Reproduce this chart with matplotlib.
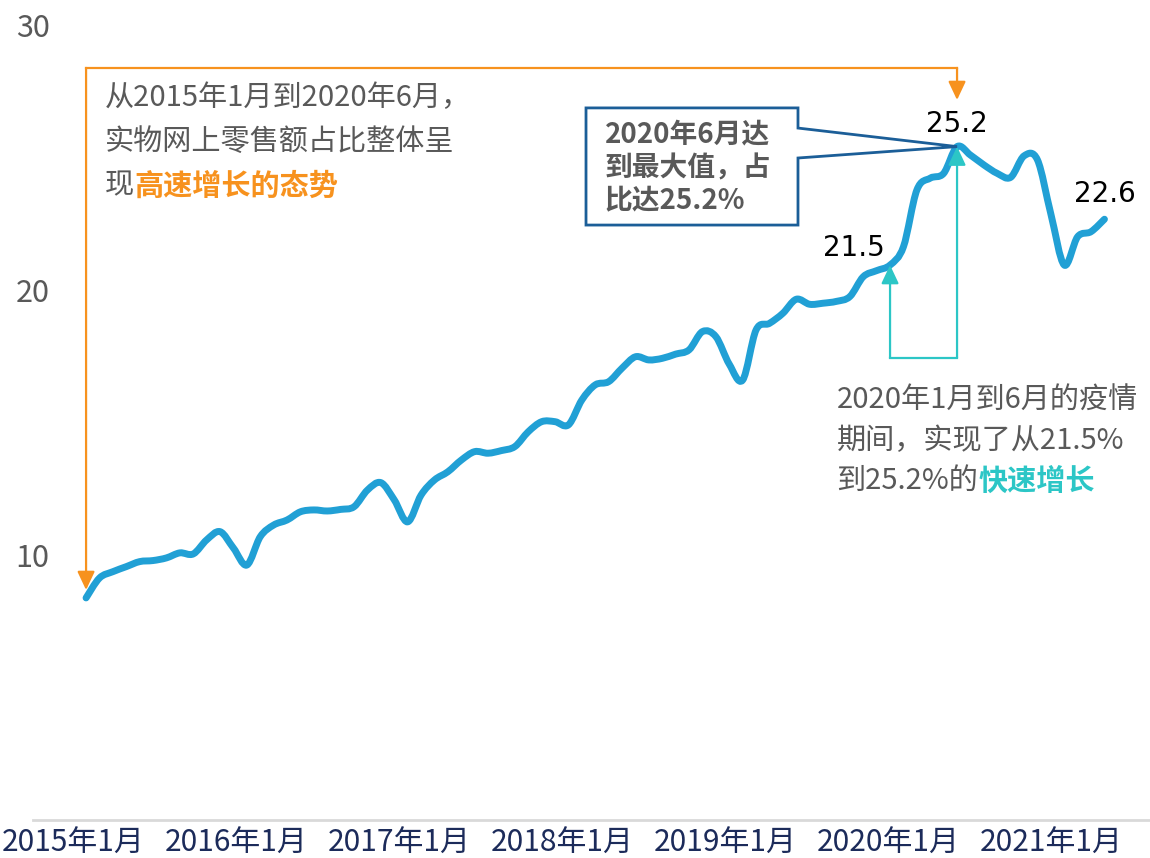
import numpy as np
import matplotlib
matplotlib.use("Agg")
import matplotlib.pyplot as plt
from matplotlib.patches import Polygon, PathPatch
from matplotlib.path import Path

plt.rcParams['font.family'] = ['Noto Sans CJK SC', 'DejaVu Sans']

# monthly share of physical online retail sales (%), Jan 2015 - May 2021
share = [8.38, 9.13, 9.37, 9.56, 9.75, 9.79, 9.89, 10.08, 10.04, 10.57, 10.88, 10.26,
         9.62, 10.69, 11.13, 11.32, 11.63, 11.70, 11.66, 11.72, 11.82, 12.45, 12.73, 12.08,
         11.25, 12.26, 12.83, 13.14, 13.58, 13.90, 13.84, 13.94, 14.09, 14.65, 15.03, 15.03,
         14.91, 15.85, 16.42, 16.54, 17.05, 17.48, 17.36, 17.42, 17.58, 17.74, 18.43, 18.24,
         17.20, 16.60, 18.49, 18.74, 19.12, 19.65, 19.46, 19.50, 19.57, 19.75, 20.50, 20.73,
         20.94, 21.63, 23.77, 24.22, 24.40, 25.41, 25.09, 24.72, 24.40, 24.25, 25.06, 24.91,
         22.87, 20.94, 22.01, 22.20, 22.67]
year_labels = ['2015年1月', '2016年1月', '2017年1月', '2018年1月',
               '2019年1月', '2020年1月', '2021年1月']
y_ticks = [10, 20, 30]

i_start, i_covid, i_peak, i_last = 0, 60, 65, len(share) - 1
lbl_covid, lbl_peak, lbl_last = '21.5', '25.2', '22.6'

months = np.arange(len(share))

LINE = '#21A0D5'
ORANGE = '#F7921E'
TEAL = '#2CC6C6'
NAVY = '#1B5E98'
GRAY = '#595959'

fig = plt.figure(figsize=(11.5, 8.58), dpi=100)
ax = fig.add_axes([0.0287, 0.0443, 0.9713, 0.9266])
ax.set_xlim(-3.96, 79.4)
ax.set_ylim(0, 30)

# smoothed line (Bezier segments through every data point, like a "smooth line" chart)
pts = np.column_stack([months, share]).astype(float)
padded = np.vstack([pts[0], pts, pts[-1]])
verts = [pts[0]]
codes = [Path.MOVETO]
for k in range(len(pts) - 1):
    p0, p1, p2, p3 = padded[k], padded[k + 1], padded[k + 2], padded[k + 3]
    verts += [p1 + (p2 - p0) / 6, p2 - (p3 - p1) / 6, p2]
    codes += [Path.CURVE4] * 3
ax.add_patch(PathPatch(Path(verts, codes), facecolor='none', edgecolor=LINE,
                       lw=5, capstyle='round', joinstyle='round', zorder=3))

# axes styling
for s in ['top', 'right', 'left']:
    ax.spines[s].set_visible(False)
ax.spines['bottom'].set_color('#d9d9d9')
ax.spines['bottom'].set_linewidth(2)
ax.set_yticks(y_ticks)
ax.set_yticklabels([str(v) for v in y_ticks])
ax.tick_params(axis='y', length=0, pad=-12, labelsize=22, labelcolor=GRAY)
ax.set_xticks(np.arange(len(year_labels)) * 12.17 - 1.0)
ax.set_xticklabels(year_labels)
ax.tick_params(axis='x', length=0, pad=6, labelsize=21.5, labelcolor='#1C2B5A')

# value labels
ax.annotate(lbl_covid, (i_covid, share[i_covid]), xytext=(-4, 12),
            textcoords='offset points', ha='right', va='center',
            fontsize=20, family='DejaVu Sans', color='black')
ax.annotate(lbl_peak, (i_peak, share[i_peak]), xytext=(0, 16),
            textcoords='offset points', ha='center', va='center',
            fontsize=20, family='DejaVu Sans', color='black')
ax.annotate(lbl_last, (i_last, share[i_last]), xytext=(0, 18),
            textcoords='offset points', ha='center', va='center',
            fontsize=20, family='DejaVu Sans', color='black')

# orange bracket with arrows
top_y = 28.38
ax.plot([i_start, i_peak], [top_y, top_y], color=ORANGE, lw=1.6, zorder=2)
arr = dict(arrowstyle='-|>,head_length=0.7,head_width=0.33', mutation_scale=16,
           shrinkA=0, shrinkB=0, lw=1.6)
ax.annotate('', xy=(i_start, share[i_start] + 0.3), xytext=(i_start, top_y),
            arrowprops=dict(color=ORANGE, **arr))
ax.annotate('', xy=(i_peak, 27.17), xytext=(i_peak, top_y),
            arrowprops=dict(color=ORANGE, **arr))

ax.text(1.42, 27.25, '从2015年1月到2020年6月，', fontsize=21, color=GRAY, va='center')
ax.text(1.42, 25.6, '实物网上零售额占比整体呈', fontsize=21, color=GRAY, va='center')
t = ax.text(1.42, 23.95, '现', fontsize=21, color=GRAY, va='center')
ax.annotate('高速增长的态势', xy=(1, 0), xycoords=t, va='bottom', ha='left',
            fontsize=21, color=ORANGE, fontweight='bold')

# teal bracket
bot_y = 17.45
ax.plot([i_covid, i_peak], [bot_y, bot_y], color=TEAL, lw=1.6, zorder=2)
ax.annotate('', xy=(i_covid, share[i_covid]), xytext=(i_covid, bot_y),
            arrowprops=dict(color=TEAL, **arr))
ax.annotate('', xy=(i_peak, share[i_peak]), xytext=(i_peak, bot_y),
            arrowprops=dict(color=TEAL, **arr))

ax.text(56.0, 15.8, '2020年1月到6月的疫情', fontsize=21, color=GRAY, va='center')
ax.text(56.0, 14.3, '期间，实现了从21.5%', fontsize=21, color=GRAY, va='center')
t2 = ax.text(56.0, 12.8, '到25.2%的', fontsize=21, color=GRAY, va='center')
ax.annotate('快速增长', xy=(1, 0), xycoords=t2, va='bottom', ha='left',
            fontsize=21, color=TEAL, fontweight='bold')

# navy callout box pointing at the peak
bx0, bx1, by0, by1 = 37.31, 53.13, 22.45, 26.87
callout = Polygon([(bx0, by1), (bx1, by1), (bx1, 26.11), (i_peak, share[i_peak]),
                   (bx1, 24.98), (bx1, by0), (bx0, by0)], closed=True,
                  facecolor='white', edgecolor=NAVY, lw=2, zorder=4)
ax.add_patch(callout)
ax.text(38.7, 25.86, '2020年6月达', fontsize=20, color=GRAY, fontweight='bold',
        va='center', zorder=5)
ax.text(38.7, 24.6, '到最大值，占', fontsize=20, color=GRAY, fontweight='bold',
        va='center', zorder=5)
ax.text(38.7, 23.35, '比达25.2%', fontsize=20, color=GRAY, fontweight='bold',
        va='center', zorder=5)

fig.savefig('out.png', dpi=100)
